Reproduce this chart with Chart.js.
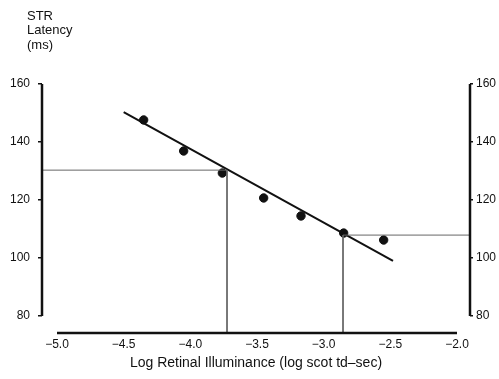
<!DOCTYPE html>
<html>
<head>
<meta charset="utf-8">
<script src="https://cdn.jsdelivr.net/npm/chart.js@4/dist/chart.umd.min.js"></script>
<style>
  html, body { margin: 0; padding: 0; background: #fff; }
  #wrap { width: 499px; height: 379px; }
</style>
</head>
<body>
<div id="wrap"><canvas id="chart"></canvas></div>
<script>
// tick labels
const xTicks = [-5, -4.5, -4, -3.5, -3, -2.5, -2];
const yTicks = [80, 100, 120, 140, 160];

// measured points
const illuminance = [-4.35, -4.05, -3.76, -3.45, -3.17, -2.85, -2.55];
const latency = [147.6, 136.9, 129.3, 120.7, 114.5, 108.6, 106.2];

// fitted regression line (end points)
const fitX = [-4.5, -2.48];
const fitY = [150.3, 99.0];

// read-off reference values (drop lines)
const refX = [-3.725, -2.855];
const refY = [130.3, 107.9];

const yLabel = ["STR", "Latency", "(ms)"];
const xLabel = "Log Retinal Illuminance (log scot td\u2013sec)";

// axis ranges (axes are drawn detached from the plot area)
const xMin = -5.1125, xMax = -1.9025;
const yMin = 74.14, yMax = 160;

const FONT = "'Liberation Sans', Arial, Helvetica, sans-serif";
const INK = "#111";

const axesPlugin = {
  id: "axes",
  afterDraw(chart) {
    const { ctx, chartArea, scales } = chart;
    const x = scales.x, y = scales.y;
    ctx.save();
    ctx.strokeStyle = INK;
    ctx.lineWidth = 2.5;
    ctx.beginPath();
    // left axis
    ctx.moveTo(chartArea.left, y.getPixelForValue(yTicks[0]));
    ctx.lineTo(chartArea.left, y.getPixelForValue(yTicks[yTicks.length - 1]));
    // right axis
    ctx.moveTo(chartArea.right, y.getPixelForValue(yTicks[0]));
    ctx.lineTo(chartArea.right, y.getPixelForValue(yTicks[yTicks.length - 1]));
    // bottom axis
    ctx.moveTo(x.getPixelForValue(xTicks[0]), chartArea.bottom);
    ctx.lineTo(x.getPixelForValue(xTicks[xTicks.length - 1]), chartArea.bottom);
    ctx.stroke();

    // y axis caption at top left
    ctx.fillStyle = INK;
    ctx.font = "13px " + FONT;
    ctx.textAlign = "left";
    ctx.textBaseline = "middle";
    yLabel.forEach((t, i) => ctx.fillText(t, 27, 16 + i * 14.5));
    ctx.restore();
  }
};

const ctx = document.getElementById("chart").getContext("2d");

new Chart(ctx, {
  type: "scatter",
  data: {
    datasets: [
      {
        // left drop line
        data: [
          { x: xMin, y: refY[0] },
          { x: refX[0], y: refY[0] },
          { x: refX[0], y: yMin }
        ],
        showLine: true,
        borderColor: "#666",
        borderWidth: 1,
        pointRadius: 0,
        fill: false
      },
      {
        // right drop line
        data: [
          { x: xMax, y: refY[1] },
          { x: refX[1], y: refY[1] },
          { x: refX[1], y: yMin }
        ],
        showLine: true,
        borderColor: "#666",
        borderWidth: 1,
        pointRadius: 0,
        fill: false
      },
      {
        data: fitX.map((v, i) => ({ x: v, y: fitY[i] })),
        showLine: true,
        borderColor: INK,
        borderWidth: 2,
        pointRadius: 0,
        fill: false
      },
      {
        data: illuminance.map((v, i) => ({ x: v, y: latency[i] })),
        backgroundColor: INK,
        borderColor: INK,
        pointRadius: 4.2,
        pointHoverRadius: 4.2
      }
    ]
  },
  options: {
    responsive: true,
    maintainAspectRatio: false,
    animation: false,
    layout: { padding: { top: 84, left: 0, right: 0, bottom: 0 } },
    plugins: {
      legend: { display: false },
      tooltip: { enabled: false }
    },
    scales: {
      x: {
        type: "linear",
        position: "bottom",
        min: xMin,
        max: xMax,
        afterBuildTicks: (scale) => { scale.ticks = xTicks.map((v) => ({ value: v })); },
        afterFit: (scale) => { scale.height = 46; },
        grid: { display: false, drawTicks: false },
        border: { display: false },
        ticks: {
          color: INK,
          font: { family: FONT, size: 12 },
          padding: 4,
          maxRotation: 0,
          autoSkip: false,
          callback: (v) => (v < 0 ? "\u2212" : "") + Math.abs(v).toFixed(1)
        },
        title: {
          display: true,
          text: xLabel,
          color: INK,
          font: { family: FONT, size: 14 },
          padding: { top: 4, bottom: 7 }
        }
      },
      y: {
        type: "linear",
        position: "left",
        min: yMin,
        max: yMax,
        afterBuildTicks: (scale) => { scale.ticks = yTicks.map((v) => ({ value: v })); },
        afterFit: (scale) => { scale.width = 42; },
        grid: { drawOnChartArea: false, drawTicks: true, tickLength: 4, color: INK, lineWidth: 1.5 },
        border: { display: false },
        ticks: {
          color: INK,
          font: { family: FONT, size: 12 },
          padding: 8
        }
      },
      y2: {
        type: "linear",
        position: "right",
        min: yMin,
        max: yMax,
        afterBuildTicks: (scale) => { scale.ticks = yTicks.map((v) => ({ value: v })); },
        afterFit: (scale) => { scale.width = 29; },
        grid: { drawOnChartArea: false, drawTicks: true, tickLength: 3, color: INK, lineWidth: 1.5 },
        border: { display: false },
        ticks: {
          color: INK,
          font: { family: FONT, size: 12 },
          padding: 3
        }
      }
    }
  },
  plugins: [axesPlugin]
});
</script>
</body>
</html>
